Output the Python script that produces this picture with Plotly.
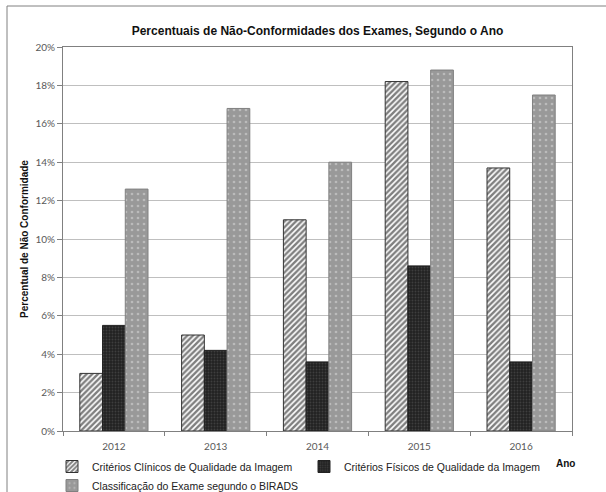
import plotly.graph_objects as go

# Percentual de não conformidade por ano e critério
anos = ["2012", "2013", "2014", "2015", "2016"]
criterios_clinicos = [3.0, 5.0, 11.0, 18.2, 13.7]
criterios_fisicos = [5.5, 4.2, 3.6, 8.6, 3.6]
classificacao_birads = [12.6, 16.8, 14.0, 18.8, 17.5]

nomes = [
    "Critérios Clínicos de Qualidade da Imagem",
    "Critérios Físicos de Qualidade da Imagem",
    "Classificação do Exame segundo o BIRADS",
]

W, H = 606, 492
L, R, T, B = 63, 34, 47, 61
pw, ph = W - L - R, H - T - B

fig = go.Figure()
fig.add_trace(go.Bar(
    x=anos, y=[v / 100 for v in criterios_clinicos], name=nomes[0],
    marker=dict(color="white", line=dict(color="#333333", width=1),
                pattern=dict(shape="/", fgcolor="#000000", bgcolor="white",
                             size=4, solidity=0.6)),
))
fig.add_trace(go.Bar(
    x=anos, y=[v / 100 for v in criterios_fisicos], name=nomes[1],
    marker=dict(color="#222222", line=dict(color="#222222", width=1),
                pattern=dict(shape=".", fgcolor="#5a5a5a", bgcolor="#222222",
                             size=3, solidity=0.3)),
))
fig.add_trace(go.Bar(
    x=anos, y=[v / 100 for v in classificacao_birads], name=nomes[2],
    marker=dict(color="#999999", line=dict(color="#808080", width=1),
                pattern=dict(shape=".", fgcolor="#dddddd", bgcolor="#999999",
                             size=6, solidity=0.15)),
))

tick_font = dict(family="Lato, Liberation Sans, Arial", size=10, color="#595959")

fig.update_layout(
    width=W, height=H,
    margin=dict(l=L, r=R, t=T, b=B, pad=0, autoexpand=False),
    paper_bgcolor="white", plot_bgcolor="white",
    barmode="group", bargap=0.33, bargroupgap=0,
    font=dict(family="Liberation Sans, Arial", color="#222222"),
    title=dict(text="<b>Percentuais de Não-Conformidades dos Exames, Segundo o Ano</b>",
               x=0.5, xanchor="center", xref="paper", y=1 - 31 / H, yanchor="middle",
               font=dict(size=12, color="#111111")),
    xaxis=dict(showline=True, linecolor="#808080", linewidth=1, mirror=True,
               ticks="outside", tickson="boundaries", ticklen=4, tickcolor="#808080",
               tickfont=tick_font, showgrid=False, automargin=False,
               ticklabelstandoff=6),
    yaxis=dict(range=[0, 0.2], dtick=0.02, tickformat=".0%",
               showline=True, linecolor="#808080", linewidth=1, mirror=True,
               ticks="outside", ticklen=5, tickcolor="#808080",
               showgrid=True, gridcolor="#bfbfbf", gridwidth=1,
               tickfont=tick_font, automargin=False,
               title=dict(text="<b>Percentual de Não Conformidade</b>",
                          font=dict(size=10, color="#111111"), standoff=4)),
    legend=dict(orientation="h", xref="container", yref="container",
                x=52 / W, xanchor="left", y=1 - 452 / H, yanchor="top",
                entrywidth=207, entrywidthmode="pixels",
                font=dict(size=10.5, color="#222222"), itemwidth=30,
                tracegroupgap=0, bgcolor="rgba(0,0,0,0)"),
    showlegend=True,
)

# "Ano" axis caption at the lower right
fig.add_annotation(text="<b>Ano</b>", xref="paper", yref="paper",
                   x=(565 - L) / pw, y=-(463 - 431) / ph, showarrow=False,
                   xanchor="center", yanchor="middle",
                   font=dict(size=10, color="#111111"))

# Outer chart frame (left and top edges)
x0 = (7 - L) / pw
y1 = 1 + (T - 6) / ph
fig.add_shape(type="line", xref="paper", yref="paper", x0=x0, x1=x0,
              y0=-(B + 2) / ph, y1=y1, line=dict(color="#808080", width=1))
fig.add_shape(type="line", xref="paper", yref="paper", x0=x0, x1=(W - L + 2) / pw,
              y0=y1, y1=y1, line=dict(color="#808080", width=1))

fig.write_html("out.html")
